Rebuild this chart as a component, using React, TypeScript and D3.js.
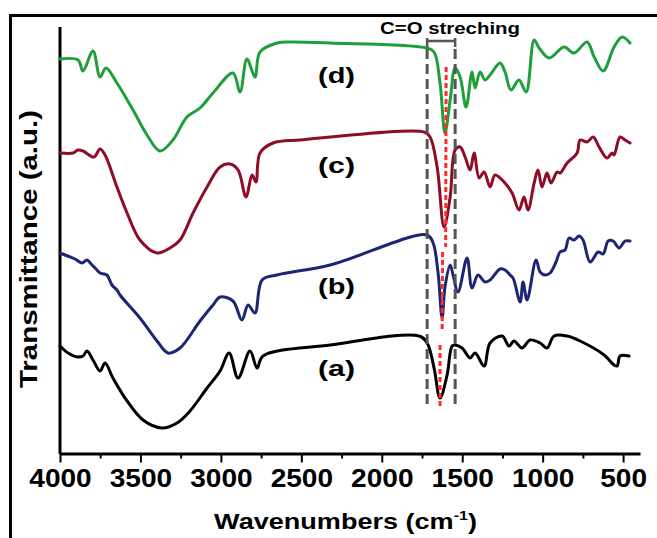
import React, { useEffect, useRef } from 'react';
import * as d3 from 'd3';

type Pt = [number, number];

// wavenumber (cm-1), transmittance (a.u., offset stacked)
const curveA: Pt[] = [
  [4000, 108], [3950, 101], [3888, 97], [3857, 98], [3832, 103], [3795, 94], [3751, 83], [3720, 91],
  [3671, 76], [3583, 53], [3484, 34], [3366, 26], [3273, 31], [3192, 43], [3086, 66], [3005, 83],
  [2949, 101], [2893, 76], [2819, 103], [2775, 86], [2738, 98], [2321, 109], [1768, 118], [1718, 111],
  [1675, 86], [1638, 56], [1594, 79], [1563, 108], [1544, 109], [1501, 106], [1451, 96], [1420, 101],
  [1364, 88], [1327, 111], [1252, 118], [1209, 108], [1178, 113], [1128, 106], [1078, 114], [1016, 111],
  [973, 106], [929, 118], [848, 118], [767, 113], [618, 99], [556, 89], [537, 88], [519, 98], [463, 98],
];

const curveB: Pt[] = [
  [4000, 201], [3907, 195], [3863, 191], [3832, 194], [3801, 189], [3776, 185], [3751, 181], [3726, 180],
  [3708, 179], [3677, 169], [3646, 164], [3627, 159], [3503, 136], [3397, 113], [3329, 101], [3254, 106],
  [3130, 133], [3049, 149], [3005, 157], [2925, 153], [2869, 134], [2831, 149], [2788, 141], [2744, 174],
  [2651, 179], [2321, 189], [1718, 219], [1681, 211], [1650, 181], [1625, 136], [1607, 167], [1575, 189],
  [1557, 179], [1526, 162], [1470, 196], [1439, 166], [1402, 179], [1358, 172], [1327, 174], [1265, 185],
  [1234, 184], [1203, 179], [1184, 176], [1140, 152], [1122, 172], [1097, 154], [1041, 194], [1016, 182],
  [985, 179], [954, 181], [917, 192], [892, 202], [861, 204], [836, 216], [805, 214], [774, 218],
  [749, 214], [705, 192], [655, 202], [624, 200], [593, 213], [562, 213], [525, 206], [488, 213], [457, 213],
];

const curveC: Pt[] = [
  [4000, 301], [3919, 301], [3888, 304], [3857, 303], [3789, 297], [3751, 305], [3720, 299], [3646, 267],
  [3583, 241], [3503, 214], [3397, 201], [3316, 206], [3254, 214], [3173, 241], [3086, 267], [3005, 287],
  [2943, 290], [2893, 284], [2844, 257], [2806, 279], [2782, 272], [2757, 301], [2676, 311], [2508, 314],
  [2321, 317], [1737, 322], [1700, 317], [1656, 287], [1613, 227], [1575, 257], [1544, 304], [1513, 307],
  [1482, 297], [1451, 284], [1426, 301], [1395, 276], [1364, 282], [1327, 267], [1296, 279], [1240, 272],
  [1190, 261], [1147, 244], [1116, 257], [1091, 244], [1053, 271], [1029, 284], [1004, 267], [973, 281],
  [948, 271], [910, 282], [892, 281], [848, 291], [786, 301], [767, 314], [724, 312], [686, 317],
  [649, 307], [600, 296], [568, 301], [556, 299], [519, 317], [488, 314], [457, 311],
];

const curveD: Pt[] = [
  [4000, 395], [3888, 394], [3857, 383], [3795, 403], [3751, 377], [3714, 386], [3646, 371], [3546, 344],
  [3459, 319], [3378, 303], [3298, 314], [3211, 337], [3130, 346], [3049, 361], [2925, 381], [2881, 362],
  [2838, 395], [2788, 377], [2757, 402], [2651, 411], [2570, 412], [2321, 411], [1718, 406], [1675, 402],
  [1638, 371], [1607, 321], [1575, 354], [1544, 386], [1513, 377], [1476, 347], [1439, 382], [1420, 366],
  [1389, 382], [1358, 374], [1327, 379], [1265, 391], [1234, 382], [1197, 364], [1147, 374], [1103, 362],
  [1053, 414], [1022, 406], [960, 396], [867, 407], [805, 401], [724, 412], [680, 397], [624, 383],
  [556, 407], [506, 417], [457, 411],
];

const series = [
  { name: '(a)', data: curveA, color: '#000000', labelY: 375.5 },
  { name: '(b)', data: curveB, color: '#1d2672', labelY: 293.5 },
  { name: '(c)', data: curveC, color: '#8e0c26', labelY: 172.5 },
  { name: '(d)', data: curveD, color: '#1f9f3b', labelY: 82.5 },
];

const majorTicks = [4000, 3500, 3000, 2500, 2000, 1500, 1000, 500];
const minorTicks = [3750, 3250, 2750, 2250, 1750, 1250, 750];

// C=O stretching band limits and peak guide
const bandEdges = [1718, 1544];
const bandTop = 413;
const bandBottom = 49;
const peakGuide: Pt[][] = [
  [[1600, 387], [1603, 207]],
  [[1622, 202], [1625, 124]],
  [[1638, 109], [1638, 46]],
];

export default function App() {
  const svgRef = useRef<SVGSVGElement>(null);

  useEffect(() => {
    const svg = d3.select(svgRef.current);
    svg.selectAll('*').remove();

    const width = 657;
    const height = 538;
    const font = '"Liberation Sans", Arial, sans-serif';

    const x = d3.scaleLinear().domain([4000, 395]).range([60, 640]);
    const y = d3.scaleLinear().domain([0, 430]).range([454, 24]);

    svg.append('rect').attr('width', width).attr('height', height).attr('fill', '#fff');

    // outer frame (cropped)
    svg.append('path')
      .attr('d', `M10.5,${height} V15.5 H${width}`)
      .attr('fill', 'none')
      .attr('stroke', '#000')
      .attr('stroke-width', 3);

    // left axis
    svg.append('line')
      .attr('x1', 60).attr('x2', 60)
      .attr('y1', 27).attr('y2', 454)
      .attr('stroke', '#000')
      .attr('stroke-width', 3);

    // bottom axis
    const xAxis = svg.append('g')
      .attr('transform', 'translate(0,453.5)')
      .call(d3.axisBottom(x).tickValues(majorTicks).tickSize(9).tickSizeOuter(0).tickFormat(d3.format('d')));
    xAxis.select('.domain').attr('stroke', '#000').attr('stroke-width', 3);
    xAxis.selectAll('line').attr('stroke', '#000').attr('stroke-width', 2);
    xAxis.selectAll('text')
      .attr('y', 33.5)
      .attr('dy', 0)
      .attr('fill', '#000')
      .style('font-family', font)
      .style('font-weight', 'bold')
      .style('font-size', '25px')
      .attr('textLength', (d: any) => String(d).length * 15.6)
      .attr('lengthAdjust', 'spacingAndGlyphs');

    const minor = svg.append('g')
      .attr('transform', 'translate(0,453.5)')
      .call(d3.axisBottom(x).tickValues(minorTicks).tickSize(5).tickSizeOuter(0).tickFormat(() => ''));
    minor.select('.domain').remove();
    minor.selectAll('line').attr('stroke', '#000').attr('stroke-width', 2);

    // spectra
    const line = d3.line<Pt>()
      .x((d) => x(d[0]))
      .y((d) => y(d[1]))
      .curve(d3.curveCatmullRom.alpha(0.5));
    series.forEach((s) => {
      svg.append('path')
        .datum(s.data)
        .attr('fill', 'none')
        .attr('stroke', s.color)
        .attr('stroke-width', 3)
        .attr('stroke-linejoin', 'round')
        .attr('stroke-linecap', 'round')
        .attr('d', line);

      svg.append('text')
        .attr('x', 336.5)
        .attr('y', s.labelY)
        .attr('text-anchor', 'middle')
        .attr('textLength', 37)
        .attr('lengthAdjust', 'spacingAndGlyphs')
        .style('font-family', font)
        .style('font-weight', 'bold')
        .style('font-size', '22px')
        .text(s.name);
    });

    // C=O band: dashed edges and bracket
    bandEdges.forEach((b) => {
      svg.append('line')
        .attr('x1', x(b)).attr('x2', x(b))
        .attr('y1', y(bandTop - 8)).attr('y2', y(bandBottom))
        .attr('stroke', '#555')
        .attr('stroke-width', 3)
        .attr('stroke-dasharray', '10,5');
      svg.append('line')
        .attr('x1', x(b)).attr('x2', x(b))
        .attr('y1', y(bandTop + 3)).attr('y2', y(bandTop - 6))
        .attr('stroke', '#555')
        .attr('stroke-width', 2.5);
    });
    svg.append('line')
      .attr('x1', x(bandEdges[0])).attr('x2', x(bandEdges[1]))
      .attr('y1', y(bandTop)).attr('y2', y(bandTop))
      .attr('stroke', '#555')
      .attr('stroke-width', 2.5);

    const guide = d3.line<Pt>().x((d) => x(d[0])).y((d) => y(d[1]));
    peakGuide.forEach((seg) => {
      svg.append('path')
        .datum(seg)
        .attr('fill', 'none')
        .attr('stroke', '#ff2a2a')
        .attr('stroke-width', 3)
        .attr('stroke-dasharray', '5,3')
        .attr('d', guide);
    });

    svg.append('text')
      .attr('x', 380)
      .attr('y', 34)
      .attr('textLength', 140)
      .attr('lengthAdjust', 'spacingAndGlyphs')
      .style('font-family', font)
      .style('font-weight', 'bold')
      .style('font-size', '17px')
      .text('C=O streching');

    // axis titles
    svg.append('text')
      .attr('transform', 'translate(37,249) rotate(-90)')
      .attr('text-anchor', 'middle')
      .attr('textLength', 278)
      .attr('lengthAdjust', 'spacingAndGlyphs')
      .style('font-family', font)
      .style('font-weight', 'bold')
      .style('font-size', '23px')
      .text('Transmittance (a.u.)');

    const xt = svg.append('text')
      .attr('transform', 'translate(345.5,529) scale(1.23,1)')
      .attr('text-anchor', 'middle')
      .style('font-family', font)
      .style('font-weight', 'bold')
      .style('font-size', '22px');
    xt.append('tspan').text('Wavenumbers (cm');
    xt.append('tspan').attr('dy', -9).style('font-size', '13px').text('-1');
    xt.append('tspan').attr('dy', 9).text(')');
  }, []);

  return (
    <svg
      ref={svgRef}
      width={657}
      height={538}
      style={{ position: 'absolute', left: 0, top: 0, background: '#fff' }}
    />
  );
}
